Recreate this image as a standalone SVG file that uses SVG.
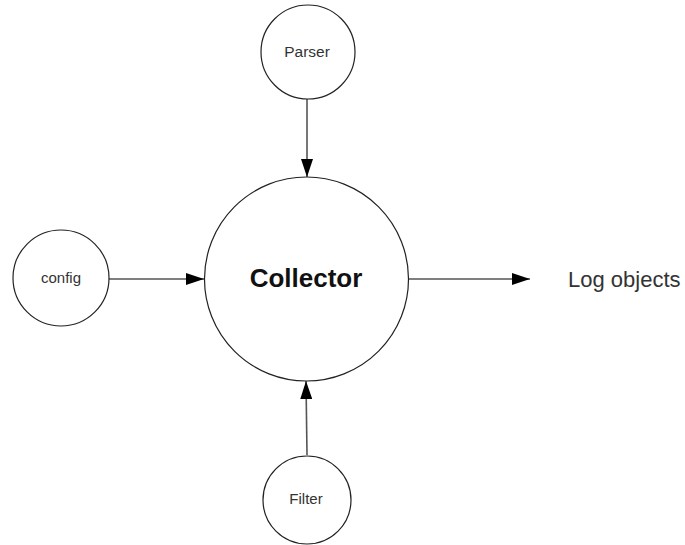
<svg xmlns="http://www.w3.org/2000/svg" width="685" height="545" viewBox="0 0 685 545">
<style>
.node{fill:#fff;stroke:#222;stroke-width:1.2}
.lbl{font-family:"Liberation Sans",Arial,sans-serif;fill:#333;text-anchor:middle}
.edge{stroke:#555;stroke-width:1.6;fill:none;marker-end:url(#ah)}
</style>
<defs>
<marker id="ah" markerWidth="18" markerHeight="12" refX="18" refY="6" orient="auto" markerUnits="userSpaceOnUse">
<path d="M0,0 L18,6 L0,12 Z" fill="#000"/>
</marker>
</defs>
<rect width="685" height="545" fill="#fff"/>
<g id="connectors">
<line class="edge" x1="307" y1="99" x2="307" y2="177"/>
<line class="edge" x1="109" y1="279" x2="204" y2="279"/>
<line class="edge" x1="409" y1="279" x2="530" y2="279"/>
<line class="edge" x1="307" y1="455" x2="306" y2="381"/>
</g>
<g id="parser">
<circle class="node" cx="308" cy="52" r="47"/>
<text class="lbl" x="307" y="57" font-size="15.5">Parser</text>
</g>
<g id="config">
<circle class="node" cx="61" cy="278" r="48"/>
<text class="lbl" x="61" y="283" font-size="15">config</text>
</g>
<g id="collector">
<circle class="node" cx="306.5" cy="279" r="102"/>
<text class="lbl" x="306" y="287" font-size="26" font-weight="bold" fill="#111" style="fill:#111">Collector</text>
</g>
<g id="filter">
<circle class="node" cx="307" cy="500" r="44"/>
<text class="lbl" x="306" y="504" font-size="15">Filter</text>
</g>
<g id="output">
<text x="568" y="287" font-family="'Liberation Sans',Arial,sans-serif" font-size="22" fill="#333">Log objects</text>
</g>
</svg>
